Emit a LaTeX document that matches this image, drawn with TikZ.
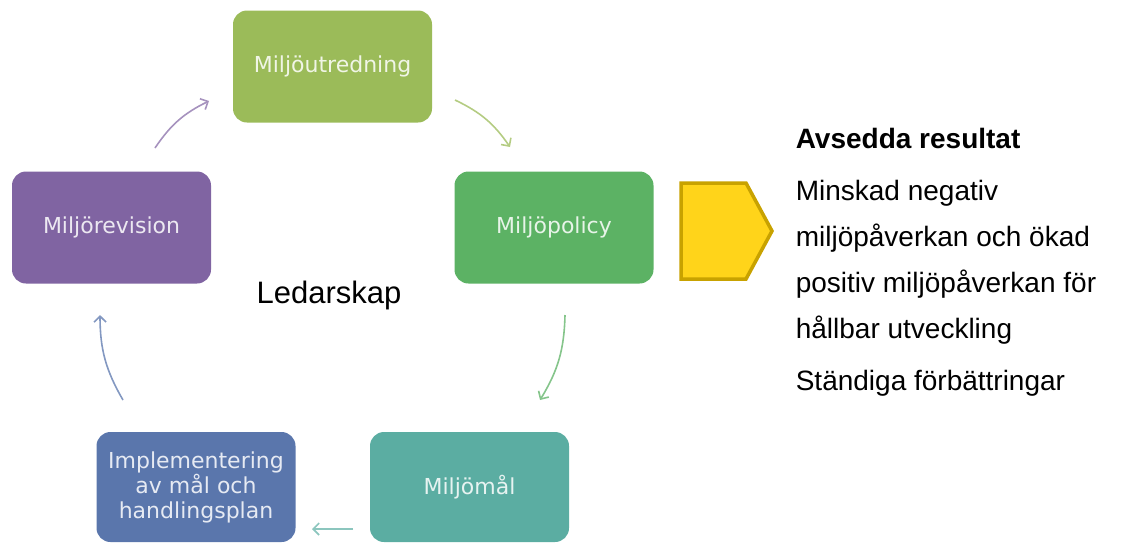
\documentclass[tikz,border=0pt]{standalone}
\usepackage{fontspec}
\setmainfont{Liberation Sans}
\newfontfamily\boxfont{DejaVu Sans}
\usetikzlibrary{arrows.meta}

\definecolor{utredcol}{HTML}{9BBB59}
\definecolor{policycol}{HTML}{5CB264}
\definecolor{malcol}{HTML}{5BADA2}
\definecolor{implcol}{HTML}{5A76AC}
\definecolor{revcol}{HTML}{8064A2}
\definecolor{pentfill}{HTML}{FFD41A}
\definecolor{pentdraw}{HTML}{C8A200}

\begin{document}
\begin{tikzpicture}[x=1pt,y=1pt,->,>={Straight Barb[length=6pt,width=12pt]},line width=1.6pt,
    box/.style={rectangle,rounded corners=14pt,minimum width=199pt,minimum height=112pt,
        align=center,font=\boxfont\fontsize{22}{25}\selectfont},
    bodytext/.style={anchor=base west,align=left,inner sep=0pt,font=\fontsize{28}{46}\selectfont}]

\useasboundingbox (0,0) rectangle (1125,-542);

% the five steps
\node[box,fill=utredcol,text=white!85!utredcol]  (utred)  at (332.5,-66.5) {Miljöutredning};
\node[box,fill=policycol,text=white!85!policycol] (policy) at (554,-227.5) {Miljöpolicy};
\node[box,fill=malcol,text=white!85!malcol,minimum height=110pt]   (mal)  at (469.5,-487) {Miljömål};
\node[box,fill=implcol,text=white!85!implcol,minimum height=110pt] (impl) at (196,-487) {Implementering\\av mål och\\handlingsplan};
\node[box,fill=revcol,text=white!85!revcol]    (rev)    at (111.5,-227.5) {Miljörevision};

\node[anchor=base,font=\fontsize{31}{36}\selectfont] (ledar) at (329,-303) {Ledarskap};

% arrow ends
\coordinate (rev out)    at (155,-148);
\coordinate (utred in)   at (209,-101);
\coordinate (utred out)  at (455,-100);
\coordinate (policy in)  at (510,-147);
\coordinate (policy out) at (565,-315);
\coordinate (mal in)     at (540,-400);
\coordinate (mal out)    at (353,-529);
\coordinate (impl in)    at (312,-529);
\coordinate (impl out)   at (123,-400);
\coordinate (rev in)     at (100,-315);

\draw[color=revcol!70]    (rev out)    to[bend left=15] (utred in);
\draw[color=utredcol!75]  (utred out)  to[bend left=15] (policy in);
\draw[color=policycol!75] (policy out) to[bend left=15] (mal in);
\draw[color=malcol!70]    (mal out)    --               (impl in);
\draw[color=implcol!75]   (impl out)   to[bend left=15] (rev in);

% result
\draw[-,line width=3.5pt,draw=pentdraw,fill=pentfill] (681,-183) -- (746,-183) -- (772,-231) -- (746,-279) -- (681,-279) -- cycle;

\node[bodytext,font=\bfseries\fontsize{28}{46}\selectfont] (head) at (795,-148) {Avsedda resultat};
\node[bodytext] (minskad) at (795,-338) {Minskad negativ\\miljöpåverkan och ökad\\positiv miljöpåverkan för\\hållbar utveckling};
\node[bodytext] (standiga) at (795,-390) {Ständiga förbättringar};
\end{tikzpicture}
\end{document}
